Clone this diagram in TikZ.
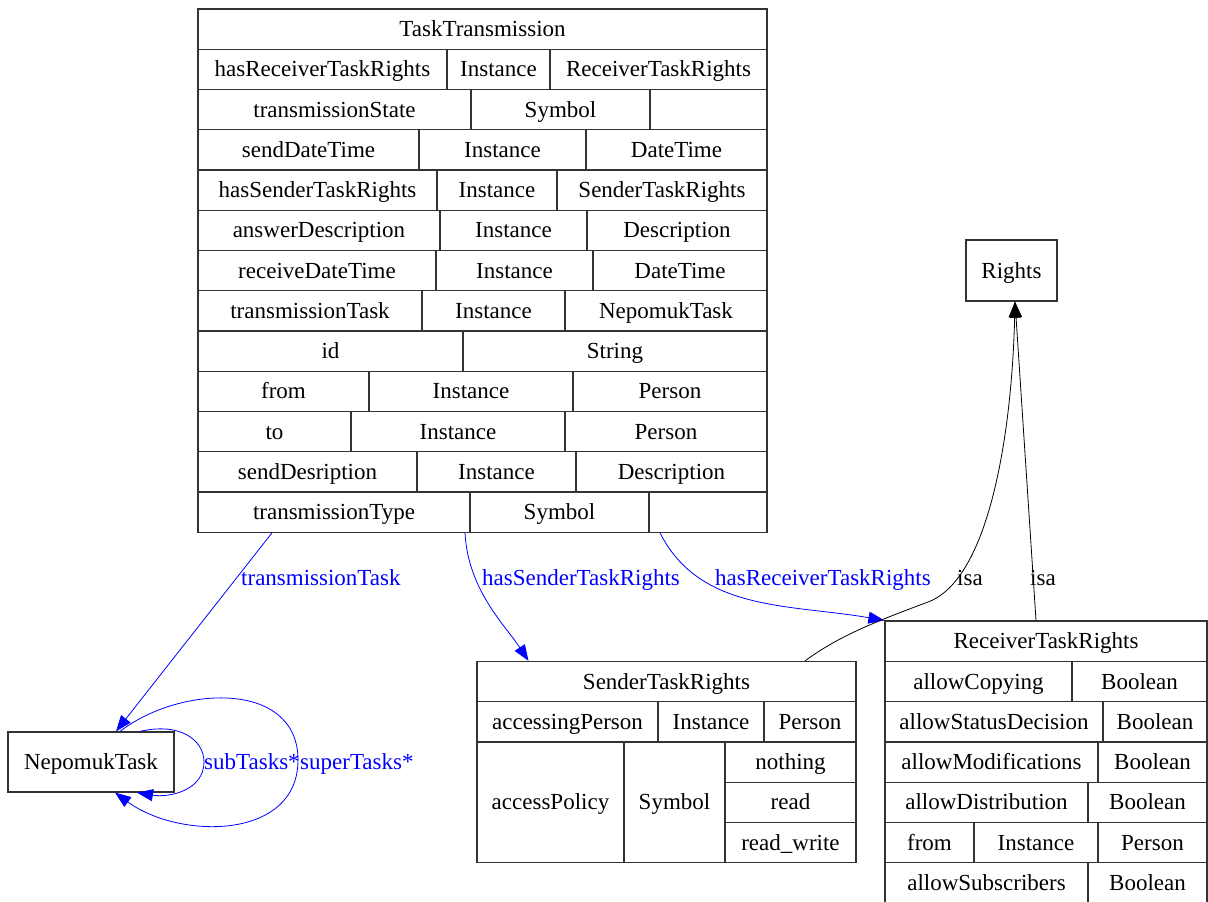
\documentclass[tikz,border=0pt]{standalone}
\usepackage{fontspec}
\setmainfont{Liberation Serif}
\usetikzlibrary{arrows.meta}

\begin{document}
\begin{tikzpicture}[x=1pt, y=-1pt,
	font=\fontsize{23}{27}\selectfont,
	cell/.style={shape=rectangle, draw=black!80, line width=1.2pt, inner sep=0pt, minimum height=40.25pt, text height=15.2pt, text depth=0pt},
	box/.style={shape=rectangle, draw=black!80, line width=1.2pt, inner sep=0pt, text height=15.2pt, text depth=0pt},
	lbl/.style={anchor=west, inner sep=0pt, text height=15.2pt, text depth=0pt},
	link/.style={draw=blue, line width=0.8pt, -{Triangle[length=16pt,width=12pt]}},
	isa/.style={draw=black, line width=0.8pt, -{Triangle[length=16pt,width=12pt]}}]
	
	\useasboundingbox (0,0) rectangle (1208,902);
	
	% TaskTransmission
	\node[cell, minimum width=569pt] (tt0) at (482.5, 29.125) {TaskTransmission};
	\node[cell, minimum width=249pt] (tt1a) at (322.5, 69.375) {hasReceiverTaskRights};
	\node[cell, minimum width=103pt] (tt1b) at (498.5, 69.375) {Instance};
	\node[cell, minimum width=217pt] (tt1c) at (658.5, 69.375) {ReceiverTaskRights};
	\node[cell, minimum width=273pt] (tt2a) at (334.5, 109.625) {transmissionState};
	\node[cell, minimum width=179pt] (tt2b) at (560.5, 109.625) {Symbol};
	\node[cell, minimum width=117pt] (tt2c) at (708.5, 109.625) {};
	\node[cell, minimum width=221pt] (tt3a) at (308.5, 149.875) {sendDateTime};
	\node[cell, minimum width=167pt] (tt3b) at (502.5, 149.875) {Instance};
	\node[cell, minimum width=181pt] (tt3c) at (676.5, 149.875) {DateTime};
	\node[cell, minimum width=239pt] (tt4a) at (317.5, 190.125) {hasSenderTaskRights};
	\node[cell, minimum width=120pt] (tt4b) at (497, 190.125) {Instance};
	\node[cell, minimum width=210pt] (tt4c) at (662, 190.125) {SenderTaskRights};
	\node[cell, minimum width=242pt] (tt5a) at (319, 230.375) {answerDescription};
	\node[cell, minimum width=147pt] (tt5b) at (513.5, 230.375) {Instance};
	\node[cell, minimum width=180pt] (tt5c) at (677, 230.375) {Description};
	\node[cell, minimum width=238pt] (tt6a) at (317, 270.625) {receiveDateTime};
	\node[cell, minimum width=157pt] (tt6b) at (514.5, 270.625) {Instance};
	\node[cell, minimum width=174pt] (tt6c) at (680, 270.625) {DateTime};
	\node[cell, minimum width=224pt] (tt7a) at (310, 310.875) {transmissionTask};
	\node[cell, minimum width=143pt] (tt7b) at (493.5, 310.875) {Instance};
	\node[cell, minimum width=202pt] (tt7c) at (666, 310.875) {NepomukTask};
	\node[cell, minimum width=265pt] (tt8a) at (330.5, 351.125) {id};
	\node[cell, minimum width=304pt] (tt8b) at (615, 351.125) {String};
	\node[cell, minimum width=171pt] (tt9a) at (283.5, 391.375) {from};
	\node[cell, minimum width=204pt] (tt9b) at (471, 391.375) {Instance};
	\node[cell, minimum width=194pt] (tt9c) at (670, 391.375) {Person};
	\node[cell, minimum width=153pt] (tt10a) at (274.5, 431.625) {to};
	\node[cell, minimum width=214pt] (tt10b) at (458, 431.625) {Instance};
	\node[cell, minimum width=202pt] (tt10c) at (666, 431.625) {Person};
	\node[cell, minimum width=219pt] (tt11a) at (307.5, 471.875) {sendDesription};
	\node[cell, minimum width=159pt] (tt11b) at (496.5, 471.875) {Instance};
	\node[cell, minimum width=191pt] (tt11c) at (671.5, 471.875) {Description};
	\node[cell, minimum width=272pt] (tt12a) at (334, 512.125) {transmissionType};
	\node[cell, minimum width=179pt] (tt12b) at (559.5, 512.125) {Symbol};
	\node[cell, minimum width=118pt] (tt12c) at (708, 512.125) {};
	
	% Rights and NepomukTask
	\node[box, minimum width=91pt, minimum height=61pt] (rights) at (1011.5, 270.5) {Rights};
	\node[box, minimum width=166pt, minimum height=60pt] (nepomuk) at (91, 762) {NepomukTask};
	
	% SenderTaskRights
	\node[cell, minimum width=379pt, minimum height=40.2pt] (st0) at (666.5, 681.6) {SenderTaskRights};
	\node[cell, minimum width=181pt, minimum height=40.2pt] (st1a) at (567.5, 721.8) {accessingPerson};
	\node[cell, minimum width=106pt, minimum height=40.2pt] (st1b) at (711, 721.8) {Instance};
	\node[cell, minimum width=92pt, minimum height=40.2pt] (st1c) at (810, 721.8) {Person};
	\node[cell, minimum width=147pt, minimum height=120.6pt] (st2a) at (550.5, 802.2) {accessPolicy};
	\node[cell, minimum width=101pt, minimum height=120.6pt] (st2b) at (674.5, 802.2) {Symbol};
	\node[cell, minimum width=131pt, minimum height=40.2pt] (st2c) at (790.5, 762.0) {nothing};
	\node[cell, minimum width=131pt, minimum height=40.2pt] (st3c) at (790.5, 802.2) {read};
	\node[cell, minimum width=131pt, minimum height=40.2pt] (st4c) at (790.5, 842.4) {read\_write};
	
	% ReceiverTaskRights
	\node[cell, minimum width=322pt] (rt0) at (1046, 641.15) {ReceiverTaskRights};
	\node[cell, minimum width=187pt] (rt1a) at (978.5, 681.45) {allowCopying};
	\node[cell, minimum width=135pt] (rt1b) at (1139.5, 681.45) {Boolean};
	\node[cell, minimum width=218pt] (rt2a) at (994, 721.75) {allowStatusDecision};
	\node[cell, minimum width=104pt] (rt2b) at (1155, 721.75) {Boolean};
	\node[cell, minimum width=213pt] (rt3a) at (991.5, 762.05) {allowModifications};
	\node[cell, minimum width=109pt] (rt3b) at (1152.5, 762.05) {Boolean};
	\node[cell, minimum width=203pt] (rt4a) at (986.5, 802.35) {allowDistribution};
	\node[cell, minimum width=119pt] (rt4b) at (1147.5, 802.35) {Boolean};
	\node[cell, minimum width=89pt] (rt5a) at (929.5, 842.65) {from};
	\node[cell, minimum width=124pt] (rt5b) at (1036, 842.65) {Instance};
	\node[cell, minimum width=109pt] (rt5c) at (1152.5, 842.65) {Person};
	\node[cell, minimum width=203pt] (rt6a) at (986.5, 882.95) {allowSubscribers};
	\node[cell, minimum width=119pt] (rt6b) at (1147.5, 882.95) {Boolean};
	
	% connectors
	\draw[link] ([xshift=-62pt]tt12a.south) -- ([xshift=25pt]nepomuk.north);
	\draw[link] ([xshift=131pt]tt12a.south) .. controls (468,590) and (505,625) .. ([xshift=-138pt]st0.north);
	\draw[link] ([xshift=-48pt]tt12c.south) .. controls (700,612) and (790,604) .. (rt0.north west);
	\draw[isa] ([xshift=138.5pt]st0.north) .. controls (840,635) and (880,620) .. (928,602) .. controls (990,579) and (1012,430) .. ([xshift=3.5pt]rights.south);
	\draw[isa] ([xshift=-10pt]rt0.north) -- ([xshift=3.5pt]rights.south);
	\draw[link] ([xshift=49pt]nepomuk.north) .. controls (180,722) and (204,740) .. (204,762) .. controls (204,790) and (170,798) .. ([xshift=46pt]nepomuk.south);
	\draw[link] ([xshift=29pt]nepomuk.north) .. controls (180,685) and (298,680) .. (298,760) .. controls (298,840) and (180,840) .. ([xshift=24pt]nepomuk.south);
	
	% labels
	\node[lbl, text=blue] (lTask) at (241, 578) {transmissionTask};
	\node[lbl, text=blue] (lSender) at (482, 578) {hasSenderTaskRights};
	\node[lbl, text=blue] (lReceiver) at (715, 578) {hasReceiverTaskRights};
	\node[lbl] (lIsaA) at (957, 578) {isa};
	\node[lbl] (lIsaB) at (1030, 578) {isa};
	\node[lbl, text=blue] (lSub) at (204, 762) {subTasks*};
	\node[lbl, text=blue] (lSuper) at (300, 762) {superTasks*};
	
\end{tikzpicture}
\end{document}
